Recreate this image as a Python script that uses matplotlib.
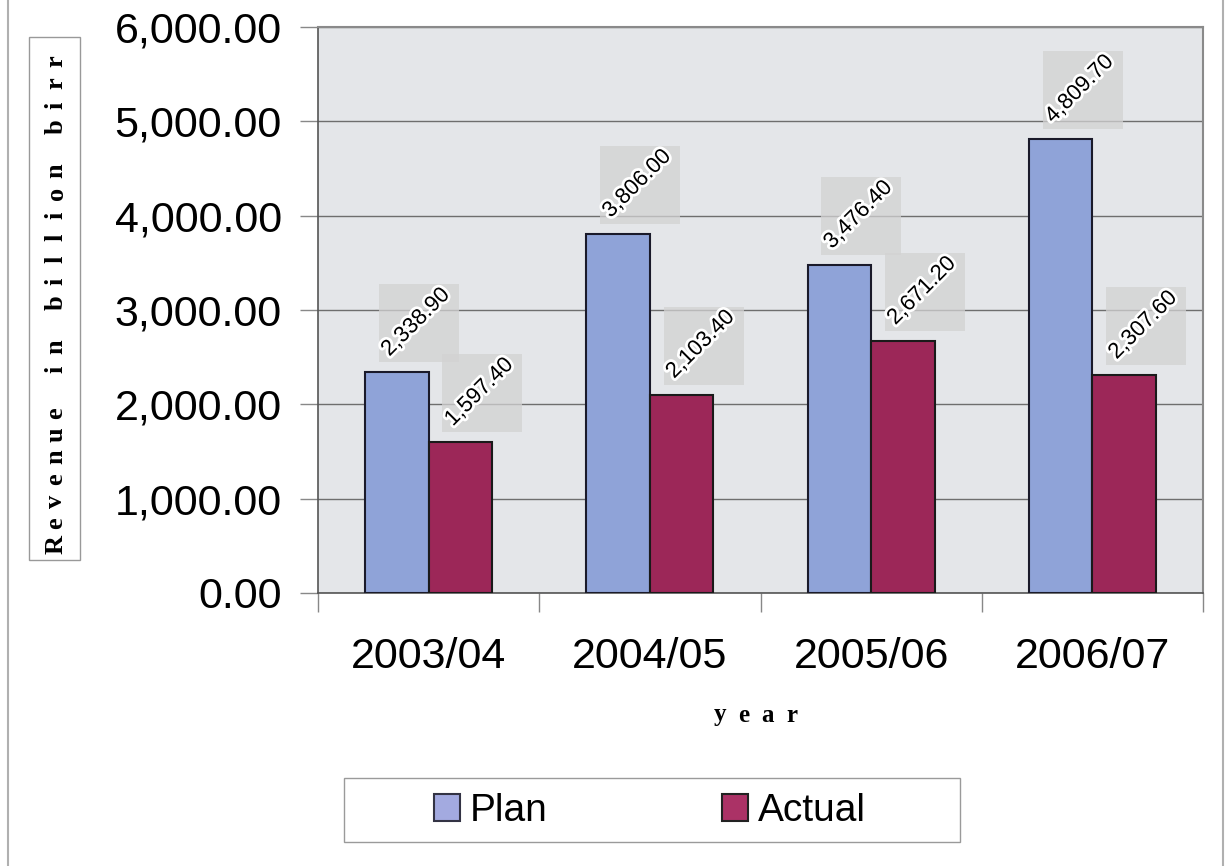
import matplotlib
matplotlib.use("Agg")
import matplotlib.pyplot as plt
from matplotlib.patches import Rectangle
from matplotlib.lines import Line2D
import matplotlib.patheffects as pe
import numpy as np

categories = ["2003/04", "2004/05", "2005/06", "2006/07"]
plan = [2338.90, 3806.00, 3476.40, 4809.70]
actual = [1597.40, 2103.40, 2671.20, 2307.60]
series_names = ["Plan", "Actual"]
yticks = [0, 1000, 2000, 3000, 4000, 5000, 6000]
ylabel_words = ["Revenue", "in", "billion", "birr"]
xlabel_text = "year"

plan_color = "#8fa3d8"
actual_color = "#9c2758"

W, H = 1228, 866
fig = plt.figure(figsize=(W / 100, H / 100), dpi=100)
fig.patch.set_facecolor("white")

L, R, T, B = 318, 1203, 27, 593
ax = fig.add_axes([L / W, 1 - B / H, (R - L) / W, (B - T) / H])
ax.set_facecolor("#e4e6e9")

x = np.arange(len(categories))
bw = 0.287
ax.bar(x - bw / 2, plan, bw, color=plan_color, edgecolor="#1a1a2a", linewidth=1.5, zorder=3, label=series_names[0])
ax.bar(x + bw / 2, actual, bw, color=actual_color, edgecolor="#1a1a1a", linewidth=1.5, zorder=3, label=series_names[1])

ax.set_xlim(-0.5, len(categories) - 0.5)
ax.set_ylim(0, 6000)
ax.set_yticks(yticks)
ax.set_yticklabels([f"{v:,.2f}" for v in yticks], fontsize=31, family="Liberation Sans")
ax.yaxis.grid(True, color="#6e6e6e", linewidth=1.0, zorder=1)
ax.set_xticks(x)
ax.set_xticklabels(categories, fontsize=31, family="Liberation Sans")
ax.tick_params(axis="x", length=0, pad=32)
ax.tick_params(axis="y", length=13, width=1, color="#888888", pad=13)
ax.set_xticks(np.arange(-0.5, len(categories), 1.0), minor=True)
ax.tick_params(axis="x", which="minor", length=14, width=1, color="#888888")
for s in ["top", "right"]:
    ax.spines[s].set_color("#8a8a8a")
    ax.spines[s].set_linewidth(1.5)
ax.spines["left"].set_color("#555555")
ax.spines["bottom"].set_color("#555555")
ax.spines["left"].set_linewidth(1.2)
ax.spines["bottom"].set_linewidth(1.2)

# data labels with grey boxes
px_per_x = (R - L) / len(categories)
px_per_y = (B - T) / 6000.0
box_w = 80 / px_per_x
box_h = 78 / px_per_y
gap = 10 / px_per_y
for vals, off in [(plan, -bw / 2), (actual, bw / 2)]:
    for i, v in enumerate(vals):
        cx = x[i] + off
        bx = cx - 18 / px_per_x
        by = v + gap
        ax.add_patch(Rectangle((bx, by), box_w, box_h, facecolor="#d2d2d2", edgecolor="none", alpha=0.75, zorder=2))
        ax.text(cx - 4 / px_per_x, v + 12 / px_per_y, f"{v:,.2f}", rotation=45, rotation_mode="anchor",
                ha="left", va="bottom", fontsize=16, family="Liberation Sans", color="black", zorder=4,
                path_effects=[pe.withStroke(linewidth=4, foreground="white")])

# y axis label: boxed, letter-spaced, rotated
fig.add_artist(Rectangle((29 / W, 1 - 560 / H), 51 / W, 523 / H, transform=fig.transFigure,
                         facecolor="white", edgecolor="#999999", linewidth=1.0))
ypos = 545.0
step_letter, step_word = 22.0, 44.0
for wi, word in enumerate(ylabel_words):
    for ci, ch in enumerate(word):
        fig.text(56 / W, 1 - ypos / H, ch, rotation=90, ha="center", va="center", fontsize=19,
                 family="Liberation Serif", fontweight="bold")
        if ci < len(word) - 1:
            ypos -= step_letter
    ypos -= step_word

# x axis label: letter-spaced
xpos = 720.0
for ch in xlabel_text:
    fig.text(xpos / W, 1 - 715 / H, ch, ha="center", va="center", fontsize=18,
             family="Liberation Serif", fontweight="bold")
    xpos += 24.0

# legend (frame drawn separately)
fig.add_artist(Rectangle((344 / W, 1 - 842 / H), 616 / W, 64 / H, transform=fig.transFigure,
                         facecolor="white", edgecolor="#9a9a9a", linewidth=1.0))
handles = [Rectangle((0, 0), 1, 1, facecolor="#a3aae0", edgecolor="#333344", linewidth=1.5),
           Rectangle((0, 0), 1, 1, facecolor="#ab3266", edgecolor="#222222", linewidth=1.5)]
leg = fig.legend(handles, series_names, loc="center", bbox_to_anchor=(650 / W, 1 - 811 / H),
                 ncol=2, prop={"family": "Liberation Sans", "size": 28},
                 frameon=False, columnspacing=4.5,
                 handlelength=0.67, handleheight=0.69, handletextpad=0.25, borderpad=0.0,
                 borderaxespad=0)

# outer figure border lines
fig.add_artist(Line2D([8 / W, 8 / W], [0, 1], color="#b0b0b0", linewidth=1.5))
fig.add_artist(Line2D([1223 / W, 1223 / W], [0, 1], color="#b0b0b0", linewidth=1.5))

fig.savefig("out.png", dpi=100, facecolor="white")
